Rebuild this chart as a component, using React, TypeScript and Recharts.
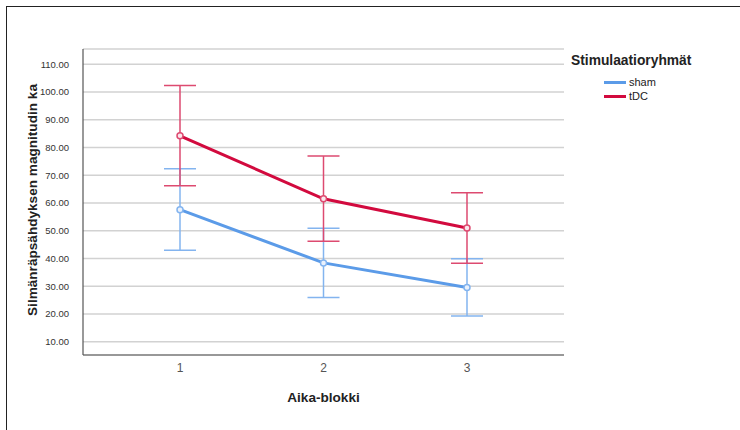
import React from 'react';
import { ComposedChart, Line, XAxis, YAxis, CartesianGrid, ErrorBar } from 'recharts';

const blocks = [1, 2, 3];
const shamMean = [57.6, 38.4, 29.5];
const shamLow = [43.0, 25.9, 19.3];
const shamHigh = [72.3, 50.9, 39.9];
const tdcMean = [84.2, 61.5, 51.0];
const tdcLow = [66.2, 46.2, 38.3];
const tdcHigh = [102.3, 76.9, 63.7];
const yTicks = [10, 20, 30, 40, 50, 60, 70, 80, 90, 100, 110];

const seriesNames = ['sham', 'tDC'];
const BLUE = '#5b9be8';
const RED = '#d20a3e';
const BLUE_ERR = '#83b4ef';
const RED_ERR = '#dd4a70';

const data = blocks.map((b, i) => ({
  block: b,
  sham: shamMean[i],
  shamErr: [shamMean[i] - shamLow[i], shamHigh[i] - shamMean[i]],
  tdc: tdcMean[i],
  tdcErr: [tdcMean[i] - tdcLow[i], tdcHigh[i] - tdcMean[i]],
}));

const FONT = '"Liberation Sans", Arial, sans-serif';

export default function App() {
  return (
    <div style={{ position: 'absolute', left: 0, top: 0, width: 740, height: 430, background: '#fff', fontFamily: FONT }}>
      <div style={{ position: 'absolute', left: 6, top: 6, width: 734, height: 424, borderLeft: '1.5px solid #222', borderTop: '1.5px solid #222', boxSizing: 'border-box' }} />
      <ComposedChart width={740} height={430} data={data} margin={{ top: 49, right: 176, bottom: 45, left: 33 }} style={{ fontFamily: FONT }}>
        <CartesianGrid horizontal vertical={false} stroke="#d2d2d2" strokeWidth={1.5} />
        <XAxis
          dataKey="block"
          type="number"
          domain={[0.324, 3.676]}
          ticks={blocks}
          height={30}
          tickLine={false}
          tickSize={6}
          tickMargin={2}
          axisLine={{ stroke: '#555', strokeWidth: 1.2 }}
          tick={{ fontSize: 12, fill: '#555', fontFamily: FONT }}
          allowDataOverflow
        />
        <YAxis
          type="number"
          domain={[5.2, 115.5]}
          ticks={yTicks}
          width={50}
          tickLine={false}
          tickSize={6}
          tickMargin={8}
          axisLine={{ stroke: '#555', strokeWidth: 1.2 }}
          tick={{ fontSize: 9.5, fill: '#333', fontFamily: FONT }}
          tickFormatter={(v: number) => v.toFixed(2)}
          allowDataOverflow
        />
        <Line
          dataKey="sham"
          stroke={BLUE}
          strokeWidth={3}
          isAnimationActive={false}
          dot={{ r: 3, fill: '#eaf2fd', stroke: BLUE_ERR, strokeWidth: 1.5 }}
          activeDot={false}
        >
          <ErrorBar dataKey="shamErr" width={16} stroke={BLUE_ERR} strokeWidth={1.5} direction="y" isAnimationActive={false} />
        </Line>
        <Line
          dataKey="tdc"
          stroke={RED}
          strokeWidth={3}
          isAnimationActive={false}
          dot={{ r: 3, fill: '#fbe6ec', stroke: RED_ERR, strokeWidth: 1.5 }}
          activeDot={false}
        >
          <ErrorBar dataKey="tdcErr" width={16} stroke={RED_ERR} strokeWidth={1.5} direction="y" isAnimationActive={false} />
        </Line>
      </ComposedChart>
      <div style={{ position: 'absolute', left: 32, top: 200, width: 0, height: 0 }}>
        <div style={{ position: 'absolute', left: 0, top: 0, transform: 'translate(-50%, -50%) rotate(-90deg)', whiteSpace: 'nowrap', fontSize: 13.6, fontWeight: 'bold', color: '#222' }}>
          Silmänräpsähdyksen magnitudin ka
        </div>
      </div>
      <div style={{ position: 'absolute', left: 323.5, top: 397, transform: 'translate(-50%, -50%)', whiteSpace: 'nowrap', fontSize: 13.6, fontWeight: 'bold', color: '#222' }}>
        Aika-blokki
      </div>
      <div style={{ position: 'absolute', left: 571, top: 53, whiteSpace: 'nowrap', fontSize: 13.8, fontWeight: 'bold', color: '#222', lineHeight: '16px' }}>
        Stimulaatioryhmät
      </div>
      {seriesNames.map((name, i) => (
        <div key={name} style={{ position: 'absolute', left: 604, top: 75 + i * 14.3, height: 14, display: 'flex', alignItems: 'center', fontSize: 11, color: '#222' }}>
          <div style={{ width: 22, height: 3, background: i === 0 ? BLUE : RED, marginRight: 3 }} />
          <span>{name}</span>
        </div>
      ))}
    </div>
  );
}
